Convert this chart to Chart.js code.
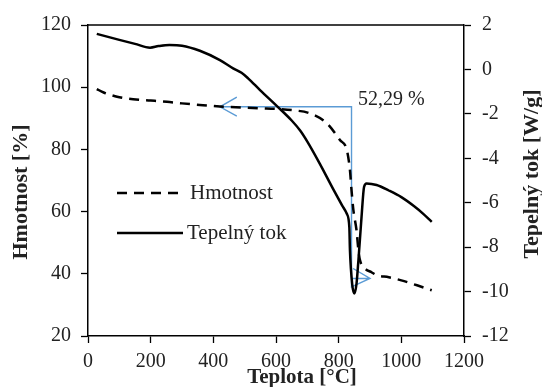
<!DOCTYPE html>
<html>
<head>
<meta charset="utf-8">
<script src="https://cdn.jsdelivr.net/npm/chart.js@4.4.0/dist/chart.umd.min.js"></script>
<style>
  html, body { margin: 0; padding: 0; background: #fff; }
  #wrap { width: 542px; height: 387px; }
</style>
</head>
<body>
<div id="wrap"><canvas id="chartTga"></canvas></div>
<script>
// Hmotnost [%] (leva osa)
const teplotaHm = [28, 50, 70, 100, 144, 200, 252, 300, 357, 421, 500, 549, 603, 654, 708, 762, 804, 826, 836, 841, 847, 857, 863, 868, 884, 905, 921, 960, 1000, 1050, 1097];
const hmotnost = [99.4, 98.3, 97.6, 96.8, 96.1, 95.7, 95.3, 94.8, 94.3, 93.8, 93.4, 93.2, 93.0, 92.6, 91.6, 88.4, 83.0, 79.8, 73.3, 66.9, 60.5, 54.0, 47.6, 44.4, 41.7, 40.5, 39.6, 38.9, 37.9, 36.3, 34.7];

// Tepelny tok [W/g] (prava osa)
const teplotaTok = [28, 100, 150, 198, 225, 260, 300, 357, 421, 463, 490, 511, 549, 603, 650, 677, 700, 740, 783, 810, 826, 834, 836, 843, 850, 857, 863, 873, 881, 889, 921, 960, 1000, 1040, 1070, 1097];
const tepelnyTok = [1.6, 1.33, 1.15, 0.98, 1.05, 1.1, 1.07, 0.84, 0.42, 0.05, -0.15, -0.4, -0.93, -1.65, -2.3, -2.75, -3.25, -4.25, -5.4, -6.1, -6.5, -7.09, -8.14, -9.64, -10.09, -9.64, -8.6, -6.64, -5.29, -5.13, -5.2, -5.45, -5.75, -6.15, -6.5, -6.86];

// modre sipky (ubytek hmotnosti), null = prerusena cara
const sipkaX = [475, 421, 475, null, 421, 841, 841, 900, 846, null, 841, 900];
const sipkaY = [96.8, 93.7, 90.7, null, 93.7, 93.7, 35.8, 38.5, 41.7, null, 38.5, 38.5];
const popisUbytku = "52,29 %";
const popisX = 862;
const popisY = 94.3;

const osaX = "Teplota [°C]";
const osaY1 = "Hmotnost [%]";
const osaY2 = "Tepelný tok [W/g]";

const serif = "'Liberation Serif', 'Times New Roman', serif";
const textColor = "#222";

function body(xs, ys) {
  return xs.map((x, i) => ({ x: x, y: ys[i] }));
}

const popisyPlugin = {
  id: "popisy",
  afterDraw(chart) {
    const c = chart.ctx;
    const a = chart.chartArea;
    const sx = chart.scales.x;
    const sy = chart.scales.y;
    c.save();

    // horni ramecek
    c.strokeStyle = "#000";
    c.lineWidth = 1.5;
    c.beginPath();
    c.moveTo(a.left, a.top);
    c.lineTo(a.right, a.top);
    c.stroke();

    // popis ubytku
    c.fillStyle = textColor;
    c.font = "20px " + serif;
    c.textAlign = "left";
    c.textBaseline = "alphabetic";
    c.fillText(popisUbytku, sx.getPixelForValue(popisX), sy.getPixelForValue(popisY));

    // legenda
    const ds = chart.data.datasets;
    [0, 1].forEach((i, k) => {
      const yy = a.top + 168 + k * 40;
      c.strokeStyle = ds[i].borderColor;
      c.lineWidth = 2.5;
      c.setLineDash(ds[i].borderDash || []);
      c.beginPath();
      c.moveTo(a.left + 29, yy);
      c.lineTo(a.left + (k ? 95 : 92), yy);
      c.stroke();
      c.setLineDash([]);
      c.textBaseline = "middle";
      c.font = "21px " + serif;
      c.fillText(ds[i].label, a.left + (k ? 99 : 102), yy);
    });

    // nazvy os
    c.font = "bold 21px " + serif;
    c.textAlign = "center";
    c.textBaseline = "alphabetic";
    c.fillText(osaX, 302, 383);

    c.font = "bold 22px " + serif;
    c.textBaseline = "middle";
    c.translate(21, 192);
    c.rotate(-Math.PI / 2);
    c.fillText(osaY1, 0, 0);
    c.restore();

    c.save();
    c.fillStyle = textColor;
    c.font = "bold 22px " + serif;
    c.textAlign = "center";
    c.textBaseline = "middle";
    c.translate(532, 174);
    c.rotate(-Math.PI / 2);
    c.fillText(osaY2, 0, 0);
    c.restore();
  },
};

const tickFont = { family: serif, size: 20 };
const gridStyle = {
  drawOnChartArea: false,
  drawTicks: true,
  tickLength: 7,
  tickColor: "#000",
  tickWidth: 1.3,
};
const cislo = (v) => String(v);

new Chart(document.getElementById("chartTga"), {
  type: "line",
  data: {
    datasets: [
      {
        label: "Hmotnost",
        data: body(teplotaHm, hmotnost),
        yAxisID: "y",
        borderColor: "#000",
        borderWidth: 2.5,
        borderDash: [10, 7],
        pointRadius: 0,
        cubicInterpolationMode: "monotone",
        fill: false,
      },
      {
        label: "Tepelný tok",
        data: body(teplotaTok, tepelnyTok),
        yAxisID: "y2",
        borderColor: "#000",
        borderWidth: 2.5,
        pointRadius: 0,
        cubicInterpolationMode: "monotone",
        fill: false,
      },
      {
        label: "ubytek",
        data: body(sipkaX, sipkaY),
        yAxisID: "y",
        borderColor: "#5b9bd5",
        borderWidth: 1.4,
        pointRadius: 0,
        tension: 0,
        spanGaps: false,
        fill: false,
      },
    ],
  },
  options: {
    responsive: true,
    maintainAspectRatio: false,
    animation: false,
    layout: { padding: { top: 25, left: 0, right: 0, bottom: 0 } },
    plugins: {
      legend: { display: false },
      tooltip: { enabled: false },
    },
    scales: {
      x: {
        type: "linear",
        min: 0,
        max: 1200,
        ticks: { stepSize: 200, color: textColor, font: tickFont, padding: 7, maxRotation: 0, callback: cislo },
        grid: gridStyle,
        border: { color: "#000", width: 1.5 },
        afterFit: (s) => { s.height = 51; },
      },
      y: {
        position: "left",
        min: 20,
        max: 120,
        ticks: { stepSize: 20, color: textColor, font: tickFont, padding: 10, callback: cislo },
        grid: gridStyle,
        border: { color: "#000", width: 1.5 },
        afterFit: (s) => { s.width = 88; },
      },
      y2: {
        position: "right",
        min: -12,
        max: 2,
        ticks: { stepSize: 2, color: textColor, font: tickFont, padding: 11, callback: cislo },
        grid: gridStyle,
        border: { color: "#000", width: 1.5 },
        afterFit: (s) => { s.width = 78; },
      },
    },
  },
  plugins: [popisyPlugin],
});
</script>
</body>
</html>
